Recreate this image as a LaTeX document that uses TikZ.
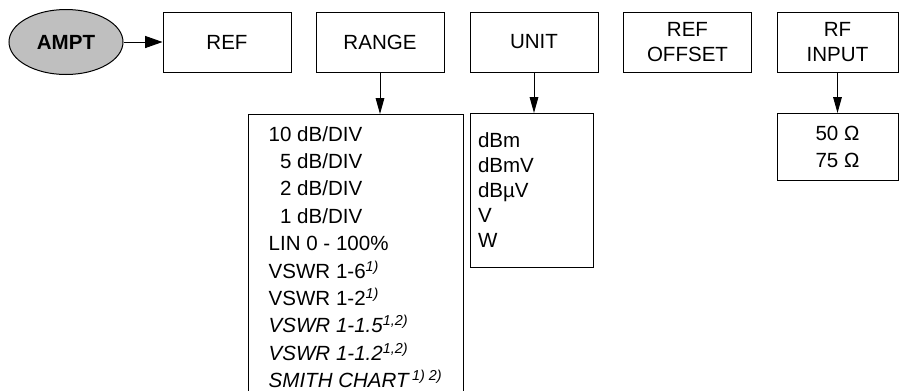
\documentclass[tikz,border=0pt]{standalone}
\usepackage{fontspec}
\setmainfont{Liberation Sans}
\usepackage{tikz}
\usetikzlibrary{positioning,arrows.meta,shapes.geometric}

\begin{document}
\begin{tikzpicture}[x=0.75pt,y=-0.75pt,line width=0.75pt,
    font={\fontsize{15.4}{18.75}\selectfont},
    keybox/.style={draw,minimum width=96pt,minimum height=45pt,inner sep=0pt,align=center},
    listbox/.style={draw,anchor=north,inner sep=0pt},
    harrow/.style={-{Triangle[length=13pt,width=9pt]}},
    varrow/.style={-{Triangle[length=12pt,width=6.5pt]}}]
  \useasboundingbox (0,0) rectangle (899,390);
  % softkey row
  \node[draw,ellipse,fill=black!25,minimum width=85.5pt,minimum height=48.75pt,inner sep=0pt,
        font={\fontsize{15.4}{18.75}\selectfont\bfseries}] (ampt) at (66,42) {AMPT};
  \node[keybox] (ref) at (227,42) {REF};
  \node[keybox] (range) at (380,42) {RANGE};
  \node[keybox] (unit) at (534,42) {UNIT};
  \node[keybox] (refoff) at (687.5,42) {REF\\OFFSET};
  \node[keybox,minimum width=90.75pt] (rfin) at (837.5,42) {RF\\INPUT};
  % sub menus
  \node[listbox,minimum width=161.25pt,minimum height=213.75pt,align=left,
        font={\fontsize{15.4}{20.55}\selectfont}] (rangelist) at (355.5,114) {%
    10 dB/DIV\\
    \phantom{1}5 dB/DIV\\
    \phantom{1}2 dB/DIV\\
    \phantom{1}1 dB/DIV\\
    LIN 0 - 100\%\\
    VSWR 1-6\textsuperscript{\itshape 1)}\\
    VSWR 1-2\textsuperscript{\itshape 1)}\\
    \textit{VSWR 1-1.5\textsuperscript{1,2)}}\\
    \textit{VSWR 1-1.2\textsuperscript{1,2)}}\\
    \textit{SMITH CHART\,\textsuperscript{1) 2)}}};
  \node[listbox,minimum width=92.25pt,minimum height=115.5pt,text width=80.25pt,align=left,
        font={\fontsize{15.4}{18.75}\selectfont}] (unitlist) at (531.5,113) {%
    dBm\\dBmV\\dBµV\\V\\W};
  \node[listbox,minimum width=90.75pt,minimum height=50.25pt,align=center,
        font={\fontsize{15.4}{20.25}\selectfont}] (rflist) at (837.5,113) {%
    50 Ω\\75 Ω};
  % connectors
  \draw[harrow] (ampt.east) -- (ref.west);
  \draw[varrow] (range.south) -- (range.south |- rangelist.north);
  \draw[varrow] (unit.south) -- (unit.south |- unitlist.north);
  \draw[varrow] (rfin.south) -- (rflist.north);
\end{tikzpicture}
\end{document}
